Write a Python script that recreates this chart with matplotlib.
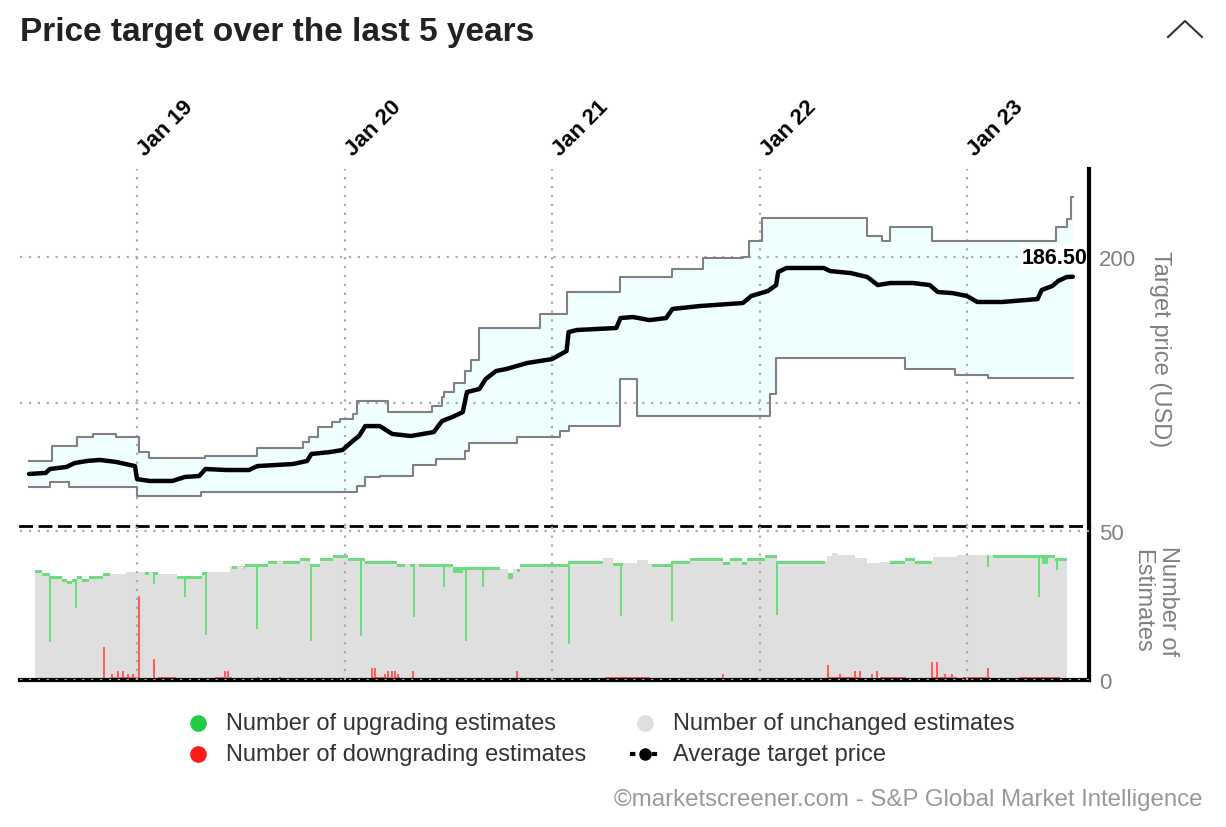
import numpy as np
import matplotlib
matplotlib.use('Agg')
import matplotlib.pyplot as plt
from matplotlib import transforms

plt.rcParams['font.family'] = ['Liberation Sans', 'DejaVu Sans']

# price targets, x in decimal years
avg_x = [2018.48, 2018.56, 2018.58, 2018.66, 2018.70, 2018.76, 2018.82, 2018.90, 2018.99, 2019.00,
         2019.06, 2019.17, 2019.23, 2019.30, 2019.33, 2019.43, 2019.54, 2019.58, 2019.75, 2019.82,
         2019.84, 2019.93, 2019.99, 2020.04, 2020.07, 2020.10, 2020.17, 2020.23, 2020.32, 2020.43,
         2020.47, 2020.52, 2020.57, 2020.59, 2020.65, 2020.68, 2020.73, 2020.78, 2020.88, 2021.00,
         2021.07, 2021.08, 2021.12, 2021.31, 2021.33, 2021.39, 2021.47, 2021.55, 2021.58, 2021.71,
         2021.92, 2021.96, 2022.04, 2022.08, 2022.09, 2022.13, 2022.31, 2022.34, 2022.44, 2022.52,
         2022.57, 2022.63, 2022.74, 2022.82, 2022.86, 2022.93, 2023.00, 2023.05, 2023.17, 2023.34,
         2023.36, 2023.41, 2023.44, 2023.48, 2023.51]
avg_y = [51.4, 52.1, 54.8, 56.2, 58.9, 60.3, 61.0, 59.6, 56.8, 47.9,
         46.6, 46.6, 49.3, 50.0, 54.8, 54.1, 54.1, 56.8, 58.2, 60.3,
         65.1, 66.4, 67.8, 74.0, 77.4, 84.2, 84.2, 78.8, 77.4, 80.1,
         87.7, 90.4, 93.8, 107.5, 109.6, 116.4, 121.9, 123.3, 127.4, 130.1,
         135.6, 148.6, 150.0, 151.4, 158.2, 158.9, 156.8, 158.2, 164.4, 166.4,
         168.5, 173.3, 176.7, 180.8, 189.7, 192.5, 192.5, 190.4, 189.0, 186.3,
         180.8, 182.2, 182.2, 180.8, 176.0, 175.3, 173.3, 169.2, 169.2, 171.2,
         177.4, 180.1, 183.6, 186.3, 186.5]

high_x = [2018.48, 2018.59, 2018.71, 2018.79, 2018.90, 2019.01, 2019.06, 2019.33, 2019.58, 2019.80,
          2019.83, 2019.87, 2019.94, 2019.98, 2020.04, 2020.06, 2020.21, 2020.42, 2020.47, 2020.48,
          2020.53, 2020.58, 2020.61, 2020.65, 2020.94, 2021.07, 2021.33, 2021.58, 2021.73, 2021.92,
          2021.95, 2022.01, 2022.52, 2022.59, 2022.63, 2022.83, 2023.43, 2023.48, 2023.50]
high_y = [60.3, 70.5, 76.7, 78.8, 76.7, 66.4, 62.3, 63.7, 69.2, 73.3,
          76.7, 83.6, 87.0, 89.0, 92.5, 101.4, 93.8, 98.0, 104.1, 107.5,
          113.7, 121.9, 129.5, 151.4, 161.0, 176.0, 186.3, 191.8, 199.3, 200.0,
          211.0, 226.7, 214.4, 211.0, 220.5, 211.0, 220.5, 226.0, 241.1]

low_x = [2018.48, 2018.58, 2018.67, 2019.00, 2019.31, 2020.06, 2020.10, 2020.17, 2020.33, 2020.44,
         2020.58, 2020.60, 2020.83, 2021.04, 2021.08, 2021.33, 2021.41, 2022.05, 2022.08, 2022.70,
         2022.94, 2023.10]
low_y = [42.5, 45.9, 42.5, 36.3, 39.0, 43.2, 49.3, 50.0, 57.5, 61.6,
         67.1, 72.6, 76.7, 80.8, 84.2, 116.4, 91.1, 106.2, 130.8, 123.3,
         119.2, 117.1]
price_end = 2023.51
last_price = '186.50'

# number of estimates
total_x = [2018.508, 2018.542, 2018.581, 2018.639, 2018.663, 2018.687, 2018.711, 2018.735, 2018.769, 2018.836,
           2018.870, 2018.947, 2019.101, 2019.193, 2019.313, 2019.448, 2019.520, 2019.631, 2019.786, 2019.834,
           2019.882, 2019.945, 2020.017, 2020.099, 2020.253, 2020.523, 2020.571, 2020.749, 2020.788, 2020.812,
           2020.846, 2021.077, 2021.246, 2021.294, 2021.410, 2021.463, 2021.578, 2021.665, 2021.824, 2021.858,
           2021.916, 2021.940, 2022.027, 2022.084, 2022.325, 2022.349, 2022.378, 2022.460, 2022.518, 2022.581,
           2022.629, 2022.701, 2022.749, 2022.836, 2022.952, 2023.424]
total_y = [36.9, 36.0, 34.9, 34.0, 33.2, 34.0, 34.9, 34.0, 34.9, 36.0,
           35.5, 36.2, 35.5, 34.9, 36.2, 38.3, 39.0, 39.9, 40.8, 39.0,
           40.8, 41.8, 40.8, 39.9, 39.0, 37.7, 38.0, 37.1, 36.0, 37.1,
           39.0, 39.9, 40.8, 39.3, 40.2, 39.0, 39.9, 40.8, 39.6, 40.8,
           39.6, 40.8, 41.8, 39.9, 41.6, 42.7, 41.8, 40.8, 39.3, 39.6,
           39.9, 40.8, 39.9, 41.1, 41.8, 40.8]
est_end = 2023.482

up_x = [2018.508, 2018.870, 2019.039, 2019.058, 2019.077, 2019.101, 2019.193, 2019.333, 2019.458, 2019.482,
        2019.516, 2019.675, 2019.704, 2020.292, 2020.316, 2020.330, 2020.359, 2020.523, 2020.571, 2020.749,
        2020.788, 2020.812, 2020.831, 2021.246, 2021.294, 2021.342, 2021.482, 2022.316, 2022.629, 2022.831,
        2023.125, 2023.361, 2023.390]
up_y = [1, 0, 1, 0, 1, 0, 1, 0, 1, 0,
        1, 0, 1, 0, 1, 0, 1, 2, 1, 0,
        2, 0, 1, 0, 1, 0, 1, 0, 1, 0,
        1, 3, 1]

up_spike_x = [2018.581, 2018.706, 2019.082, 2019.231, 2019.333, 2019.578, 2019.839, 2020.080, 2020.335, 2020.480,
              2020.586, 2020.667, 2021.082, 2021.333, 2021.578, 2022.084, 2023.101, 2023.347, 2023.434]
up_spike_y = [22, 10, 4, 7, 21, 22, 26, 26, 18, 8, 25, 7, 28, 18, 20, 18, 4, 14, 4]

down_band_x = [2018.508, 2018.870, 2019.015, 2019.101, 2019.188, 2019.376, 2019.458, 2020.133, 2020.267, 2021.255,
               2021.472, 2022.325, 2022.484, 2022.581, 2022.701, 2022.831, 2022.952, 2022.981, 2023.111, 2023.255,
               2023.448]
down_band_y = [0, 1, 0, 1, 0, 1, 0, 1, 0, 1,
               0, 1, 0, 1, 0, 1, 0, 1, 0, 1,
               0]

down_x = [2018.841, 2018.880, 2018.908, 2018.933, 2018.957, 2018.981, 2019.010, 2019.082, 2019.135, 2019.169,
          2019.424, 2019.439, 2019.583, 2019.689, 2020.133, 2020.147, 2020.195, 2020.210, 2020.229, 2020.243,
          2020.258, 2020.330, 2020.831, 2021.289, 2021.328, 2021.376, 2021.424, 2021.463, 2021.824, 2022.330,
          2022.388, 2022.460, 2022.484, 2022.542, 2022.566, 2022.701, 2022.831, 2022.855, 2022.894, 2022.928,
          2023.101, 2023.255, 2023.352, 2023.439]
down_y = [11, 2, 3, 3, 2, 2, 28, 7, 1, 1,
          3, 3, 1, 1, 4, 4, 2, 3, 3, 3,
          2, 3, 3, 1, 1, 1, 1, 1, 2, 5,
          2, 3, 3, 2, 3, 1, 6, 6, 2, 2,
          4, 1, 1, 1]

year_ticks = [2019, 2020, 2021, 2022, 2023]
year_labels = ['Jan 19', 'Jan 20', 'Jan 21', 'Jan 22', 'Jan 23']
legend_labels = ['Number of upgrading estimates', 'Number of unchanged estimates',
                 'Number of downgrading estimates', 'Average target price']

W, H = 1226, 828
GREY_TXT = '#808080'
GREEN, RED, LIGHT = '#6ddc7e', '#ff5c5c', '#dfdfdf'
GRID = dict(color='#aaaaaa', linestyle=(0, (1, 3)), linewidth=1.6)


def box(left, top, right, bottom):
    return [left / W, 1 - bottom / H, (right - left) / W, (bottom - top) / H]


def step_path(xs, ys, x_end):
    px, py = [], []
    for i, y in enumerate(ys):
        nxt = xs[i + 1] if i + 1 < len(xs) else x_end
        px += [xs[i], nxt]
        py += [y, y]
    return np.array(px), np.array(py)


def step_at(xs, ys, q):
    idx = np.searchsorted(xs, q, side='right') - 1
    return np.asarray(ys, dtype=float)[np.clip(idx, 0, len(ys) - 1)]


fig = plt.figure(figsize=(W / 100, H / 100), dpi=100)
ax = fig.add_axes(box(20, 170, 1089, 527))
axb = fig.add_axes(box(20, 527, 1089, 681))

# --- price panel
hx, hy = step_path(high_x, high_y, price_end)
lx, ly = step_path(low_x, low_y, price_end)
ax.fill(np.r_[hx, lx[::-1]], np.r_[hy, ly[::-1]], color='#efffff', lw=0, zorder=1)
ax.plot(hx, hy, color='#808080', lw=1.5, zorder=3)
ax.plot(lx, ly, color='#808080', lw=1.5, zorder=3)
ax.plot(avg_x, avg_y, color='black', lw=3.2, zorder=4, solid_joinstyle='round', solid_capstyle='round')
ax.annotate(last_price, xy=(avg_x[-1], avg_y[-1]), xytext=(15, 14), textcoords='offset pixels',
            ha='right', va='baseline', fontsize=15.5, fontweight='bold', zorder=5,
            bbox=dict(boxstyle='square,pad=0.08', fc='white', ec='none'))

ax.set_xlim(2018.436, 2023.588)
ax.set_ylim(15.75, 260.3)
ax.set_xticks(year_ticks)
ax.set_yticks([100, 200])
ax.set_yticklabels(['', '200'])
ax.yaxis.tick_right()
ax.tick_params(axis='y', length=0, labelsize=16, labelcolor=GREY_TXT, pad=7)
ax.tick_params(axis='x', length=0, labelbottom=False, labeltop=False)
ax.grid(True, **GRID)
ax.set_axisbelow(False)
for s in ['left', 'top', 'bottom']:
    ax.spines[s].set_visible(False)
ax.spines['right'].set_linewidth(3)
ax.spines['right'].set_zorder(6)

lab_tr = transforms.offset_copy(ax.get_xaxis_transform(), fig=fig, x=12, y=9, units='dots')
for t, lab in zip(year_ticks, year_labels):
    ax.text(t, 1.0, lab, transform=lab_tr, rotation=45, rotation_mode='anchor', ha='left', va='bottom',
            fontsize=16, fontweight='bold', clip_on=False)

# --- estimates panel
grid_x = np.union1d(np.union1d(total_x, up_x), down_band_x)
grid_x = np.append(grid_x[grid_x < est_end], est_end)
tot = step_at(total_x, total_y, grid_x)
up = step_at(up_x, up_y, grid_x)
dn = step_at(down_band_x, down_band_y, grid_x)
axb.fill_between(grid_x, 0, tot, step='post', color=LIGHT, lw=0, zorder=1)
axb.fill_between(grid_x, tot - up, tot, step='post', color=GREEN, lw=0, zorder=1.2)
axb.fill_between(grid_x, 0, dn, step='post', color=RED, lw=0, zorder=1.2)
tops = step_at(total_x, total_y, up_spike_x)
axb.bar(up_spike_x, up_spike_y, bottom=tops - np.array(up_spike_y), width=0.006, color=GREEN, lw=0, zorder=1.3)
axb.bar(down_x, down_y, width=0.012, color=RED, lw=0, zorder=1.3)

axb.set_xlim(2018.436, 2023.588)
axb.set_ylim(0, 51.6)
axb.set_xticks(year_ticks)
axb.set_yticks([0, 50])
axb.yaxis.tick_right()
axb.tick_params(axis='y', length=0, labelsize=16, labelcolor=GREY_TXT, pad=7)
axb.tick_params(axis='x', length=0, labelbottom=False)
axb.grid(True, **GRID)
axb.set_axisbelow(False)
axb.spines['left'].set_visible(False)
axb.spines['top'].set_linestyle((0, (4, 3)))
axb.spines['top'].set_linewidth(2)
axb.spines['right'].set_linewidth(3)
axb.spines['bottom'].set_linewidth(3)

# --- texts, legend, decorations in pixel coordinates
ov = fig.add_axes([0, 0, 1, 1])
ov.set_xlim(0, W)
ov.set_ylim(H, 0)
ov.axis('off')
ov.patch.set_visible(False)

ov.text(20, 32, 'Price target over the last 5 years', fontsize=24, fontweight='bold', color='#222222',
        ha='left', va='center')
ov.plot([1168, 1185, 1202], [38, 22, 38], color='#333333', lw=1.5)
ov.text(1160, 349, 'Target price (USD)', rotation=270, ha='center', va='center', fontsize=17, color=GREY_TXT)
ov.text(1155, 601, 'Number of\nEstimates', rotation=270, ha='center', va='center', fontsize=17,
        color=GREY_TXT, linespacing=1.2)

marker_pos = [(198, 724), (645, 724), (198, 755), (645, 755)]
marker_col = ['#22cc44', LIGHT, '#ff1a1a', 'black']
for (mx, my), col, lab in zip(marker_pos, marker_col, legend_labels):
    if col == 'black':
        ov.plot([mx - 15, mx + 15], [my, my], color='black', lw=3, ls=(0, (1.3, 1.3)))
        ov.plot([mx], [my], 'o', color='black', ms=8)
    else:
        ov.plot([mx], [my], 'o', color=col, ms=12, mec='none')
    ov.text(mx + 28, my, lab, ha='left', va='center', fontsize=17, color='#333333')

ov.text(1203, 800, '\u00a9marketscreener.com - S&P Global Market Intelligence', ha='right', va='center',
        fontsize=17.3, color='#999999')

fig.savefig('out.png', dpi=100)
